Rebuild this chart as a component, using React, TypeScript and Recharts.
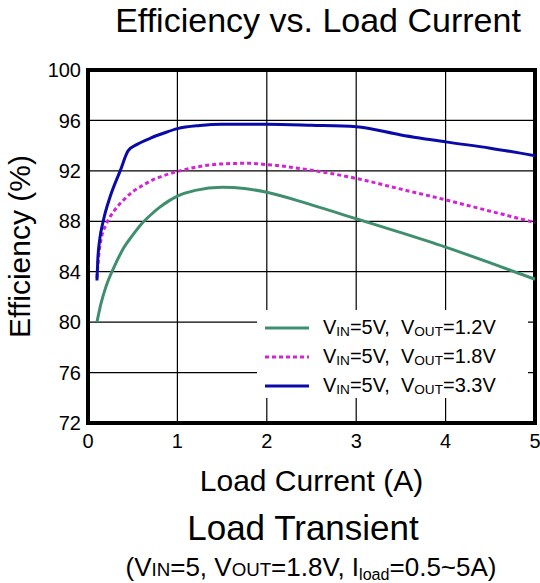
import React from "react"
import {
  LineChart,
  Line,
  XAxis,
  YAxis,
  CartesianGrid,
  ReferenceArea,
  Legend,
} from "recharts"

const FONT = "'Liberation Sans', Arial, sans-serif"

// load current (A) and efficiency (%) per output voltage
const current12 = [0.1, 0.15, 0.2, 0.3, 0.4, 0.5, 0.6, 0.7, 0.8, 0.9, 1.0, 1.2, 1.5, 1.75, 2.0, 2.5, 3.0, 3.5, 4.0, 4.5, 5.0]
const eff12 = [80.0, 81.6, 82.8, 84.5, 85.9, 86.9, 87.8, 88.5, 89.1, 89.6, 90.0, 90.45, 90.7, 90.6, 90.3, 89.3, 88.2, 87.1, 85.95, 84.7, 83.4]

const current18 = [0.1, 0.12, 0.15, 0.2, 0.3, 0.4, 0.5, 0.6, 0.7, 0.8, 1.0, 1.25, 1.5, 1.8, 2.0, 2.5, 3.0, 3.5, 4.0, 4.5, 5.0]
const eff18 = [83.5, 85.3, 86.7, 87.7, 88.9, 89.7, 90.35, 90.8, 91.2, 91.5, 91.95, 92.35, 92.55, 92.6, 92.5, 92.05, 91.4, 90.55, 89.7, 88.8, 87.9]

const current33 = [0.1, 0.11, 0.13, 0.17, 0.25, 0.36, 0.45, 0.55, 0.7, 0.85, 1.0, 1.25, 1.5, 2.0, 2.5, 3.0, 3.5, 4.0, 4.5, 5.0]
const eff33 = [83.3, 85.0, 86.5, 88.0, 90.0, 92.0, 93.6, 94.1, 94.6, 95.0, 95.35, 95.6, 95.7, 95.7, 95.62, 95.5, 94.85, 94.3, 93.8, 93.2]

const xTicks = [0, 1, 2, 3, 4, 5]
const yTicks = [72, 76, 80, 84, 88, 92, 96, 100]

const toPoints = (xs: number[], ys: number[]) => xs.map((x, i) => ({ x, y: ys[i] }))

const series = [
  { name: "1.2V", color: "#3f8f6f", dash: undefined, data: toPoints(current12, eff12) },
  { name: "1.8V", color: "#d323d3", dash: "4 3", data: toPoints(current18, eff18) },
  { name: "3.3V", color: "#0a0aaa", dash: undefined, data: toPoints(current33, eff33) },
]

const subStyle: React.CSSProperties = { fontSize: "0.68em", verticalAlign: "-0.12em" }

function LegendBox() {
  return (
    <div style={{ fontFamily: FONT, fontSize: 20, color: "#000", paddingTop: 3 }}>
      {series.map((s) => (
        <div key={s.name} style={{ height: 29, display: "flex", alignItems: "center" }}>
          <svg width={66} height={10} style={{ flex: "none" }}>
            <line x1={8} x2={52} y1={5} y2={5} stroke={s.color} strokeWidth={3} strokeDasharray={s.dash} />
          </svg>
          <span style={{ whiteSpace: "pre" }}>
            V<span style={subStyle}>IN</span>=5V,  V<span style={subStyle}>OUT</span>={s.name}
          </span>
        </div>
      ))}
    </div>
  )
}

const centered = (cx: number, top: number, size: number): React.CSSProperties => ({
  position: "absolute",
  left: cx,
  top,
  transform: "translateX(-50%)",
  whiteSpace: "nowrap",
  fontFamily: FONT,
  fontSize: size,
  lineHeight: 1,
  color: "#000",
})

export default function App() {
  return (
    <div style={{ position: "absolute", left: 0, top: 0, width: 540, height: 583, background: "#fff" }}>
      <div style={centered(318, 3, 34)}>Efficiency vs. Load Current</div>
      <LineChart width={540} height={583} margin={{ top: 70, right: 5, bottom: 130, left: 0 }}>
        <CartesianGrid stroke="#000" strokeWidth={1.2} />
        <XAxis
          type="number"
          dataKey="x"
          domain={[0, 5]}
          ticks={xTicks}
          height={30}
          axisLine={false}
          tickLine={false}
          tickSize={6}
          tickMargin={5}
          tick={{ fontSize: 20, fill: "#000", fontFamily: FONT }}
          allowDuplicatedCategory={false}
          label={{
            value: "Load Current (A)",
            position: "bottom",
            offset: 17,
            style: { fontSize: 30, fill: "#000", fontFamily: FONT },
          }}
        />
        <YAxis
          type="number"
          domain={[72, 100]}
          ticks={yTicks}
          width={88}
          axisLine={false}
          tickLine={false}
          tickSize={6}
          tickMargin={1}
          tick={{ fontSize: 20, fill: "#000", fontFamily: FONT }}
          label={{
            value: "Efficiency (%)",
            angle: -90,
            position: "insideLeft",
            offset: 19,
            style: { fontSize: 30, fill: "#000", fontFamily: FONT, textAnchor: "middle" },
          }}
        />
        {series.map((s) => (
          <Line
            key={s.name}
            data={s.data}
            dataKey="y"
            name={s.name}
            type="monotone"
            stroke={s.color}
            strokeWidth={3}
            strokeDasharray={s.dash}
            dot={false}
            activeDot={false}
            isAnimationActive={false}
          />
        ))}
        <ReferenceArea x1={0} x2={5} y1={72} y2={100} fill="none" stroke="#000" strokeWidth={4} />
        <Legend
          layout="vertical"
          align="center"
          verticalAlign="middle"
          content={() => <LegendBox />}
          wrapperStyle={{ left: 257, top: 310, width: 271, height: 88, background: "#fff" }}
        />
      </LineChart>
      <div style={centered(303, 510, 35)}>Load Transient</div>
      <div style={centered(311, 554, 26)}>
        (V<span style={{ fontSize: "0.72em" }}>IN</span>=5, V<span style={{ fontSize: "0.72em" }}>OUT</span>=1.8V, I
        <span style={{ fontSize: "0.62em", verticalAlign: "-0.25em" }}>load</span>=0.5~5A)
      </div>
    </div>
  )
}
